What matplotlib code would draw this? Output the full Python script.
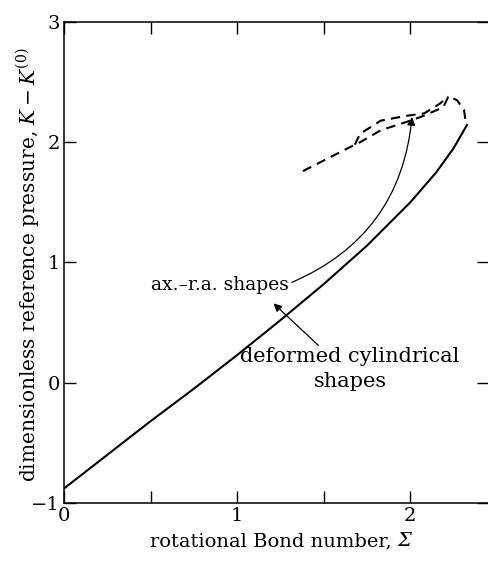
import matplotlib
matplotlib.use("Agg")
import matplotlib.pyplot as plt
import numpy as np

plt.rcParams['font.family'] = ['DejaVu Serif']
plt.rcParams['mathtext.fontset'] = 'dejavuserif'

# solid curve: deformed cylindrical shapes
cyl_x = [0.0, 0.25, 0.5, 0.75, 1.0, 1.25, 1.5, 1.75, 2.0, 2.15, 2.25, 2.33]
cyl_y = [-0.88, -0.6, -0.32, -0.05, 0.23, 0.52, 0.82, 1.14, 1.5, 1.75, 1.95, 2.15]

# dashed curve: ax.-r.a. shapes (tail + lower branch + turning arc)
axra_x = [1.38, 1.53, 1.68, 1.71, 1.83, 1.98, 2.06, 2.19, 2.22, 2.27, 2.31, 2.32]
axra_y = [1.76, 1.87, 1.98, 2.00, 2.10, 2.17, 2.21, 2.29, 2.38, 2.35, 2.27, 2.17]
# upper branch
axra2_x = [1.68, 1.71, 1.83, 1.98, 2.08, 2.17, 2.22]
axra2_y = [1.98, 2.07, 2.18, 2.22, 2.24, 2.32, 2.38]

x_ticks = [0, 0.5, 1, 1.5, 2]
x_labels = ['0', '', '1', '', '2']
y_ticks = [-1, 0, 1, 2, 3]
y_labels = ['\u22121', '0', '1', '2', '3']

fig = plt.figure(figsize=(4.88, 5.61), dpi=100)
ax = fig.add_axes([0.131, 0.1034, 0.8712, 0.8574])
ax.plot(cyl_x, cyl_y, color='black', lw=1.5, solid_capstyle='butt')
ax.plot(axra_x, axra_y, color='black', lw=1.5, dashes=(4.5, 3))
ax.plot(axra2_x, axra2_y, color='black', lw=1.5, dashes=(4.5, 3))

ax.set_xlim(0, 2.455)
ax.set_ylim(-1, 3)
ax.set_xticks(x_ticks)
ax.set_xticklabels(x_labels)
ax.set_yticks(y_ticks)
ax.set_yticklabels(y_labels)
ax.tick_params(direction='in', length=8.5, width=1, top=True, right=True,
               labelsize=14, pad=3)
for s in ax.spines.values():
    s.set_linewidth(1.1)

# x label: plain text plus an italic Sigma
xl = fig.text(150 / 488, 1 - 541 / 561, "rotational Bond number, ",
              fontsize=14, ha='left', va='center')
ax.annotate("\u03a3", xy=(1, 0), xycoords=xl, fontsize=14, fontstyle='italic',
            ha='left', va='bottom', annotation_clip=False)

ax.set_ylabel(r"dimensionless reference pressure, $K - K^{(0)}$", fontsize=14.5)
ax.yaxis.set_label_coords(-0.052, 0.495)

ax.annotate("ax.\u2013r.a. shapes", xy=(2.01, 2.21), xytext=(1.30, 0.81),
            fontsize=13.5, va='center', ha='right',
            arrowprops=dict(arrowstyle='-|>', color='black', lw=0.9,
                            connectionstyle='arc3,rad=0.3',
                            shrinkA=0, shrinkB=0, mutation_scale=12,
                            relpos=(1.0, 0.6)))
ax.annotate("", xy=(1.21, 0.66), xytext=(1.47, 0.31),
            arrowprops=dict(arrowstyle='-|>', color='black', lw=0.9,
                            shrinkA=0, shrinkB=0, mutation_scale=12))
ax.text(1.653, 0.115, "deformed cylindrical\nshapes", fontsize=15,
        ha='center', va='center', linespacing=1.35)

fig.savefig("out.png", dpi=100)
